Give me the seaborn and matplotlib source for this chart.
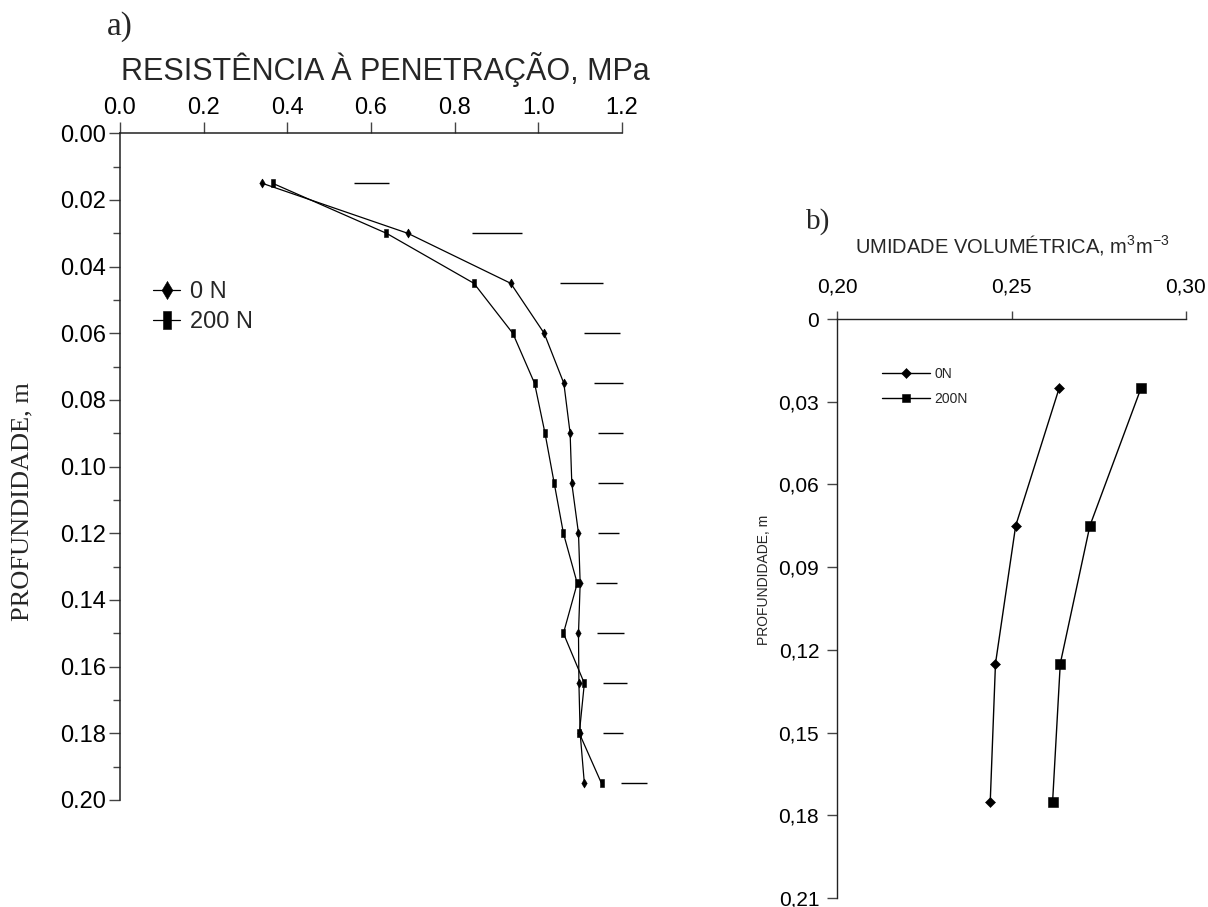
import numpy as np
import pandas as pd
import matplotlib
matplotlib.use("Agg")
import matplotlib.pyplot as plt
import seaborn as sns

# ---- data -------------------------------------------------------------
# a) penetration resistance (MPa) by depth (m)
depth_a = [0.015, 0.030, 0.045, 0.060, 0.075, 0.090, 0.105,
           0.120, 0.135, 0.150, 0.165, 0.180, 0.195]
rp_0N = [0.340, 0.688, 0.934, 1.014, 1.061, 1.076, 1.080,
         1.096, 1.100, 1.096, 1.097, 1.100, 1.110]
rp_200N = [0.365, 0.637, 0.846, 0.939, 0.991, 1.016, 1.038,
           1.060, 1.093, 1.060, 1.110, 1.098, 1.151]
# least significant difference bars (start / end, MPa)
lsd_lo = [0.560, 0.842, 1.051, 1.110, 1.132, 1.143, 1.143,
          1.143, 1.139, 1.141, 1.154, 1.155, 1.198]
lsd_hi = [0.644, 0.962, 1.154, 1.196, 1.203, 1.203, 1.202,
          1.193, 1.187, 1.204, 1.212, 1.202, 1.259]

# b) volumetric water content (m3 m-3) by depth (m)
depth_b = [0.025, 0.075, 0.125, 0.175]
theta_0N = [0.2637, 0.2512, 0.2454, 0.2439]
theta_200N = [0.2872, 0.2725, 0.2640, 0.2618]

xticks_a = [0.0, 0.2, 0.4, 0.6, 0.8, 1.0, 1.2]
yticks_a = [0.00, 0.02, 0.04, 0.06, 0.08, 0.10, 0.12, 0.14, 0.16, 0.18, 0.20]
xticks_b = [0.20, 0.25, 0.30]
yticks_b = [0.0, 0.03, 0.06, 0.09, 0.12, 0.15, 0.18, 0.21]
yticklabels_b = ["0", "0,03", "0,06", "0,09", "0,12", "0,15", "0,18", "0,21"]

# ---- style ------------------------------------------------------------
sns.set_theme(style="ticks")
plt.rcParams["font.family"] = ["Liberation Sans", "DejaVu Sans"]
plt.rcParams["mathtext.fontset"] = "custom"
plt.rcParams["mathtext.rm"] = "Liberation Sans"
plt.rcParams["mathtext.it"] = "Liberation Sans:italic"
SERIF = ["Liberation Serif", "DejaVu Serif"]
TICKC = "#444444"
SPINEC = "#222222"

# slim markers used in panel a
thin_diamond = [(0, 0.5), (0.3, 0), (0, -0.5), (-0.3, 0), (0, 0.5)]
tall_rect = [(-0.25, -0.5), (0.25, -0.5), (0.25, 0.5), (-0.25, 0.5), (-0.25, -0.5)]

W, H = 1208, 907
fig = plt.figure(figsize=(W / 100, H / 100), dpi=100)
ax_a = fig.add_axes([120 / W, 1 - 800 / H, 502 / W, 666.7 / H])
ax_b = fig.add_axes([837.3 / W, 1 - 898 / H, 348.4 / W, 579 / H])

# ---- panel a ----------------------------------------------------------
df_a = pd.DataFrame({"depth": depth_a, "0 N": rp_0N, "200 N": rp_200N})
sns.lineplot(data=df_a, x="0 N", y="depth", ax=ax_a, sort=False,
             estimator=None, color="black", lw=0.9, marker=thin_diamond,
             ms=6.5, mec="black", mfc="black", mew=0.4, label="0 N")
sns.lineplot(data=df_a, x="200 N", y="depth", ax=ax_a, sort=False,
             estimator=None, color="black", lw=0.9, marker=tall_rect,
             ms=6.2, mec="black", mfc="black", mew=0.4, label="200 N")
ax_a.hlines(depth_a, lsd_lo, lsd_hi, colors="black", lw=1.0, clip_on=False)

ax_a.set_xlim(0, 1.2)
ax_a.set_ylim(0.20, 0.0)
ax_a.xaxis.tick_top()
ax_a.set_xticks(xticks_a)
ax_a.set_xticklabels([f"{v:.1f}" for v in xticks_a])
ax_a.set_yticks(yticks_a)
ax_a.set_yticklabels([f"{v:.2f}" for v in yticks_a])
ax_a.set_yticks(np.arange(0.01, 0.20, 0.02), minor=True)
for s in ("right", "bottom"):
    ax_a.spines[s].set_visible(False)
for s in ("left", "top"):
    ax_a.spines[s].set_color(SPINEC)
    ax_a.spines[s].set_linewidth(1.1)
ax_a.tick_params(axis="x", which="major", top=True, bottom=False,
                 labeltop=True, labelbottom=False, direction="out",
                 length=8, width=1, color=TICKC, pad=2, labelsize=17,
                 labelcolor="black")
ax_a.tick_params(axis="y", which="major", left=True, direction="out",
                 length=8, width=1, color=TICKC, pad=2, labelsize=17,
                 labelcolor="black")
ax_a.tick_params(axis="y", which="minor", left=True, direction="out",
                 length=5, width=1, color=TICKC)

ax_a.set_xlabel("RESISTÊNCIA À PENETRAÇÃO, MPa", fontsize=22)
ax_a.xaxis.set_label_position("top")
ax_a.xaxis.set_label_coords(0.528, 1.095)
ax_a.xaxis.label.set_va("center")
ax_a.set_ylabel("PROFUNDIDADE, m", fontsize=19, family=SERIF)
ax_a.yaxis.set_label_coords(-0.173, 0.447)

ax_a.legend(loc="center left", bbox_to_anchor=(0.0657, 0.7396),
            frameon=False, fontsize=17, markerscale=2.0, handlelength=1.15,
            handletextpad=0.42, labelspacing=0.35, borderpad=0,
            borderaxespad=0)

fig.text(120 / W, 1 - 27 / H, "a)", family=SERIF, fontsize=24,
         ha="center", va="center")

# ---- panel b ----------------------------------------------------------
df_b = pd.DataFrame({"depth": depth_b, "0N": theta_0N, "200N": theta_200N})
sns.lineplot(data=df_b, x="0N", y="depth", ax=ax_b, sort=False,
             estimator=None, color="black", lw=1.0, marker="D", ms=5.6,
             mec="black", mfc="black", mew=0.4, label="0N")
sns.lineplot(data=df_b, x="200N", y="depth", ax=ax_b, sort=False,
             estimator=None, color="black", lw=1.0, marker="s", ms=6.8,
             mec="black", mfc="black", mew=0.4, label="200N")

ax_b.set_xlim(0.20, 0.30)
ax_b.set_ylim(0.21, 0.0)
ax_b.xaxis.tick_top()
ax_b.set_xticks(xticks_b)
ax_b.set_xticklabels([f"{v:.2f}".replace(".", ",") for v in xticks_b])
ax_b.set_yticks(yticks_b)
ax_b.set_yticklabels(yticklabels_b)
for s in ("right", "bottom"):
    ax_b.spines[s].set_visible(False)
for s in ("left", "top"):
    ax_b.spines[s].set_color(SPINEC)
    ax_b.spines[s].set_linewidth(1.0)
ax_b.tick_params(axis="x", top=True, bottom=False, labeltop=True,
                 labelbottom=False, direction="out", length=6, width=1,
                 color=TICKC, pad=10, labelsize=15, labelcolor="black")
ax_b.tick_params(axis="y", left=True, direction="out", length=7, width=1,
                 color=TICKC, pad=6, labelsize=15, labelcolor="black")

ax_b.set_xlabel(r"UMIDADE VOLUMÉTRICA, m$^{3}$m$^{-3}$", fontsize=14.5)
ax_b.xaxis.set_label_position("top")
ax_b.xaxis.set_label_coords(0.501, 1.128)
ax_b.xaxis.label.set_va("center")
ax_b.set_ylabel("PROFUNDIDADE, m", fontsize=10)
ax_b.yaxis.set_label_coords(-0.19, 0.549)

ax_b.legend(loc="center left", bbox_to_anchor=(0.1274, 0.883),
            frameon=False, fontsize=10, markerscale=0.85, handlelength=3.5,
            handletextpad=0.3, labelspacing=0.78, borderpad=0,
            borderaxespad=0)

fig.text(818 / W, 1 - 222 / H, "b)", family=SERIF, fontsize=21,
         ha="center", va="center")

fig.savefig("out.png", dpi=100, facecolor="white")
